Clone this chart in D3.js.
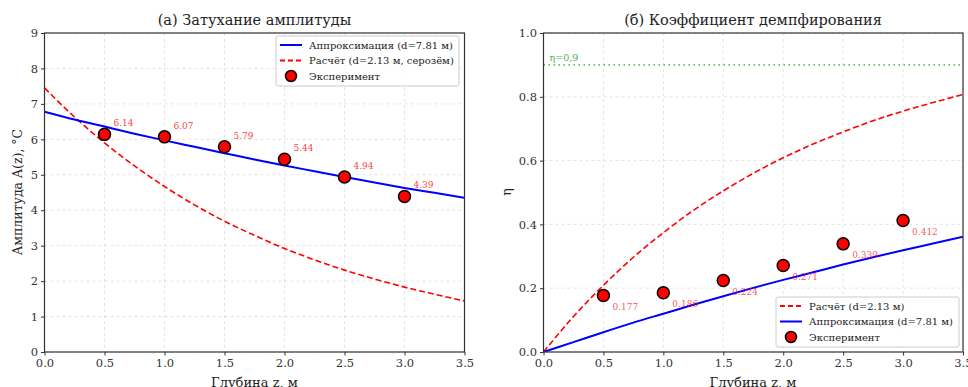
<!DOCTYPE html>
<html>
<head>
<meta charset="utf-8">
<script src="https://cdn.jsdelivr.net/npm/d3@7"></script>
<style>
  body { margin: 0; background: #fff; }
  text { font-family: "DejaVu Serif", serif; }
</style>
</head>
<body>
<script>
// depths, m
var depth = [0.5, 1.0, 1.5, 2.0, 2.5, 3.0];
var ampExp = [6.14, 6.07, 5.79, 5.44, 4.94, 4.39];
var etaExp = [0.177, 0.186, 0.224, 0.271, 0.339, 0.412];

// curves
var curveZ = [0, 0.25, 0.5, 0.75, 1.0, 1.25, 1.5, 1.75, 2.0, 2.25, 2.5, 2.75, 3.0, 3.25, 3.5];
var ampFit = [6.78, 6.56, 6.36, 6.16, 5.97, 5.79, 5.61, 5.43, 5.26, 5.10, 4.94, 4.78, 4.63, 4.49, 4.35];
var ampCalc = [7.45, 6.63, 5.90, 5.25, 4.67, 4.15, 3.69, 3.29, 2.92, 2.60, 2.31, 2.06, 1.83, 1.63, 1.44];
var etaFit = [0, 0.031, 0.062, 0.092, 0.120, 0.148, 0.175, 0.201, 0.226, 0.250, 0.274, 0.297, 0.319, 0.340, 0.361];
var etaCalc = [0, 0.111, 0.209, 0.297, 0.374, 0.444, 0.505, 0.560, 0.609, 0.652, 0.690, 0.725, 0.755, 0.782, 0.807];

var xTicks = [0, 0.5, 1.0, 1.5, 2.0, 2.5, 3.0, 3.5];
var ampTicks = [0, 1, 2, 3, 4, 5, 6, 7, 8, 9];
var etaTicks = [0, 0.2, 0.4, 0.6, 0.8, 1.0];
var etaLevel = 0.9;

var svg = d3.select('body').append('svg')
  .attr('width', 968)
  .attr('height', 387);

function panel(left, right, yMax, yTicks, yFmt) {
  var g = svg.append('g');
  var x = d3.scaleLinear().domain([0, 3.5]).range([left, right]);
  var y = d3.scaleLinear().domain([0, yMax]).range([352, 33]);

  // grid
  g.append('g').selectAll('line.gx')
    .data(xTicks).enter().append('line')
    .attr('x1', d => x(d)).attr('x2', d => x(d))
    .attr('y1', 33).attr('y2', 352)
    .attr('stroke', '#ddd').attr('stroke-dasharray', '3,3').attr('stroke-width', 0.8);
  g.append('g').selectAll('line.gy')
    .data(yTicks).enter().append('line')
    .attr('x1', left).attr('x2', right)
    .attr('y1', d => y(d)).attr('y2', d => y(d))
    .attr('stroke', '#ddd').attr('stroke-dasharray', '3,3').attr('stroke-width', 0.8);

  var xa = g.append('g')
    .attr('transform', 'translate(0,352)')
    .call(d3.axisBottom(x).tickValues(xTicks).tickFormat(d3.format('.1f')).tickSize(3.5).tickPadding(3));
  var ya = g.append('g')
    .attr('transform', `translate(${left},0)`)
    .call(d3.axisLeft(y).tickValues(yTicks).tickFormat(yFmt).tickSize(3.5).tickPadding(3));
  [xa, ya].forEach(a => {
    a.select('.domain').remove();
    a.selectAll('text').attr('font-size', '11.5px').attr('fill', '#333')
      .style('font-family', '"DejaVu Serif", serif');
    a.selectAll('line').attr('stroke', '#333');
  });
  return {g: g, x: x, y: y};
}

function frame(p, left, right) {
  p.g.append('rect')
    .attr('x', left).attr('y', 33)
    .attr('width', right - left).attr('height', 319)
    .attr('fill', 'none').attr('stroke', '#333').attr('stroke-width', 1.2);
}

function drawCurve(p, ys, color, dash, clip) {
  p.g.append('path')
    .datum(curveZ.map((z, i) => [z, ys[i]]))
    .attr('d', d3.line().x(d => p.x(d[0])).y(d => p.y(d[1])).curve(d3.curveMonotoneX))
    .attr('fill', 'none')
    .attr('stroke', color)
    .attr('stroke-width', dash ? 1.6 : 2)
    .attr('stroke-dasharray', dash)
    .attr('clip-path', clip);
}

function legend(g, x0, y0, w, items) {
  g.append('rect')
    .attr('x', x0).attr('y', y0).attr('width', w).attr('height', 50)
    .attr('rx', 2).attr('fill', 'white').attr('fill-opacity', 0.85)
    .attr('stroke', '#ccc');
  items.forEach((it, i) => {
    var yy = y0 + 9 + i * 15.5;
    if (it.type == 'dot') {
      g.append('circle').attr('cx', x0 + 15).attr('cy', yy).attr('r', 5.5)
        .attr('fill', 'red').attr('stroke', 'black').attr('stroke-width', 1.5);
    } else {
      g.append('line').attr('x1', x0 + 4).attr('x2', x0 + 26)
        .attr('y1', yy).attr('y2', yy)
        .attr('stroke', it.color).attr('stroke-width', 2)
        .attr('stroke-dasharray', it.dash);
    }
    g.append('text').attr('x', x0 + 33).attr('y', yy + 3.8)
      .attr('font-size', '10px').attr('fill', '#222').text(it.label);
  });
}

svg.append('defs').html(
  '<clipPath id="cl"><rect x="44.5" y="33" width="420" height="319"/></clipPath>' +
  '<clipPath id="cr"><rect x="543.5" y="33" width="419.5" height="319"/></clipPath>');

// (a) amplitude
var L = panel(44.5, 464.5, 9, ampTicks, d3.format('d'));
drawCurve(L, ampCalc, 'red', '6,3', 'url(#cl)');
drawCurve(L, ampFit, 'blue', null, 'url(#cl)');
L.g.selectAll('circle.pt').data(depth).enter().append('circle')
  .attr('cx', d => L.x(d)).attr('cy', (d, i) => L.y(ampExp[i])).attr('r', 6)
  .attr('fill', 'red').attr('stroke', 'black').attr('stroke-width', 1.5);
L.g.selectAll('text.lbl').data(depth).enter().append('text')
  .attr('x', d => L.x(d) + 9).attr('y', (d, i) => L.y(ampExp[i]) - 8)
  .attr('font-size', '9px').attr('fill', 'red').attr('fill-opacity', 0.8)
  .text((d, i) => ampExp[i].toFixed(2));
frame(L, 44.5, 464.5);
legend(L.g, 276, 36, 183, [
  {label: 'Аппроксимация (d=7.81 м)', color: 'blue'},
  {label: 'Расчёт (d=2.13 м, серозём)', color: 'red', dash: '5,3'},
  {label: 'Эксперимент', type: 'dot'}
]);
svg.append('text').attr('x', 254.5).attr('y', 25).attr('text-anchor', 'middle')
  .attr('font-size', '14.5px').attr('fill', '#222').text('(a) Затухание амплитуды');
svg.append('text').attr('transform', 'translate(22,192) rotate(-90)')
  .attr('text-anchor', 'middle').attr('font-size', '12.5px').attr('fill', '#222')
  .text('Амплитуда A(z), °C');
svg.append('text').attr('x', 254.5).attr('y', 387).attr('text-anchor', 'middle')
  .attr('font-size', '13px').attr('fill', '#222').text('Глубина z, м');

// (б) damping
var R = panel(543.5, 963, 1.0, etaTicks, d3.format('.1f'));
R.g.append('line')
  .attr('x1', 543.5).attr('x2', 963)
  .attr('y1', R.y(etaLevel)).attr('y2', R.y(etaLevel))
  .attr('stroke', '#4caf50').attr('stroke-opacity', 0.85)
  .attr('stroke-width', 1.6).attr('stroke-dasharray', '1.5,3.5');
R.g.append('text').attr('x', R.x(0.05)).attr('y', R.y(etaLevel) - 4)
  .attr('font-size', '9.5px').attr('fill', '#4caf50').text('η=0,9');
drawCurve(R, etaCalc, 'red', '6,3', 'url(#cr)');
drawCurve(R, etaFit, 'blue', null, 'url(#cr)');
R.g.selectAll('circle.pt').data(depth).enter().append('circle')
  .attr('cx', d => R.x(d)).attr('cy', (d, i) => R.y(etaExp[i])).attr('r', 6)
  .attr('fill', 'red').attr('stroke', 'black').attr('stroke-width', 1.5);
R.g.selectAll('text.lbl').data(depth).enter().append('text')
  .attr('x', d => R.x(d) + 9).attr('y', (d, i) => R.y(etaExp[i]) + 14)
  .attr('font-size', '9px').attr('fill', 'red').attr('fill-opacity', 0.7)
  .text((d, i) => etaExp[i].toFixed(3));
frame(R, 543.5, 963);
legend(R.g, 776, 297, 183, [
  {label: 'Расчёт (d=2.13 м)', color: 'red', dash: '5,3'},
  {label: 'Аппроксимация (d=7.81 м)', color: 'blue'},
  {label: 'Эксперимент', type: 'dot'}
]);
svg.append('text').attr('x', 753).attr('y', 25).attr('text-anchor', 'middle')
  .attr('font-size', '14.5px').attr('fill', '#222').text('(б) Коэффициент демпфирования');
svg.append('text').attr('transform', 'translate(511,192) rotate(-90)')
  .attr('text-anchor', 'middle').attr('font-size', '12.5px').attr('fill', '#222')
  .text('η');
svg.append('text').attr('x', 753).attr('y', 387).attr('text-anchor', 'middle')
  .attr('font-size', '13px').attr('fill', '#222').text('Глубина z, м');
</script>
</body>
</html>
